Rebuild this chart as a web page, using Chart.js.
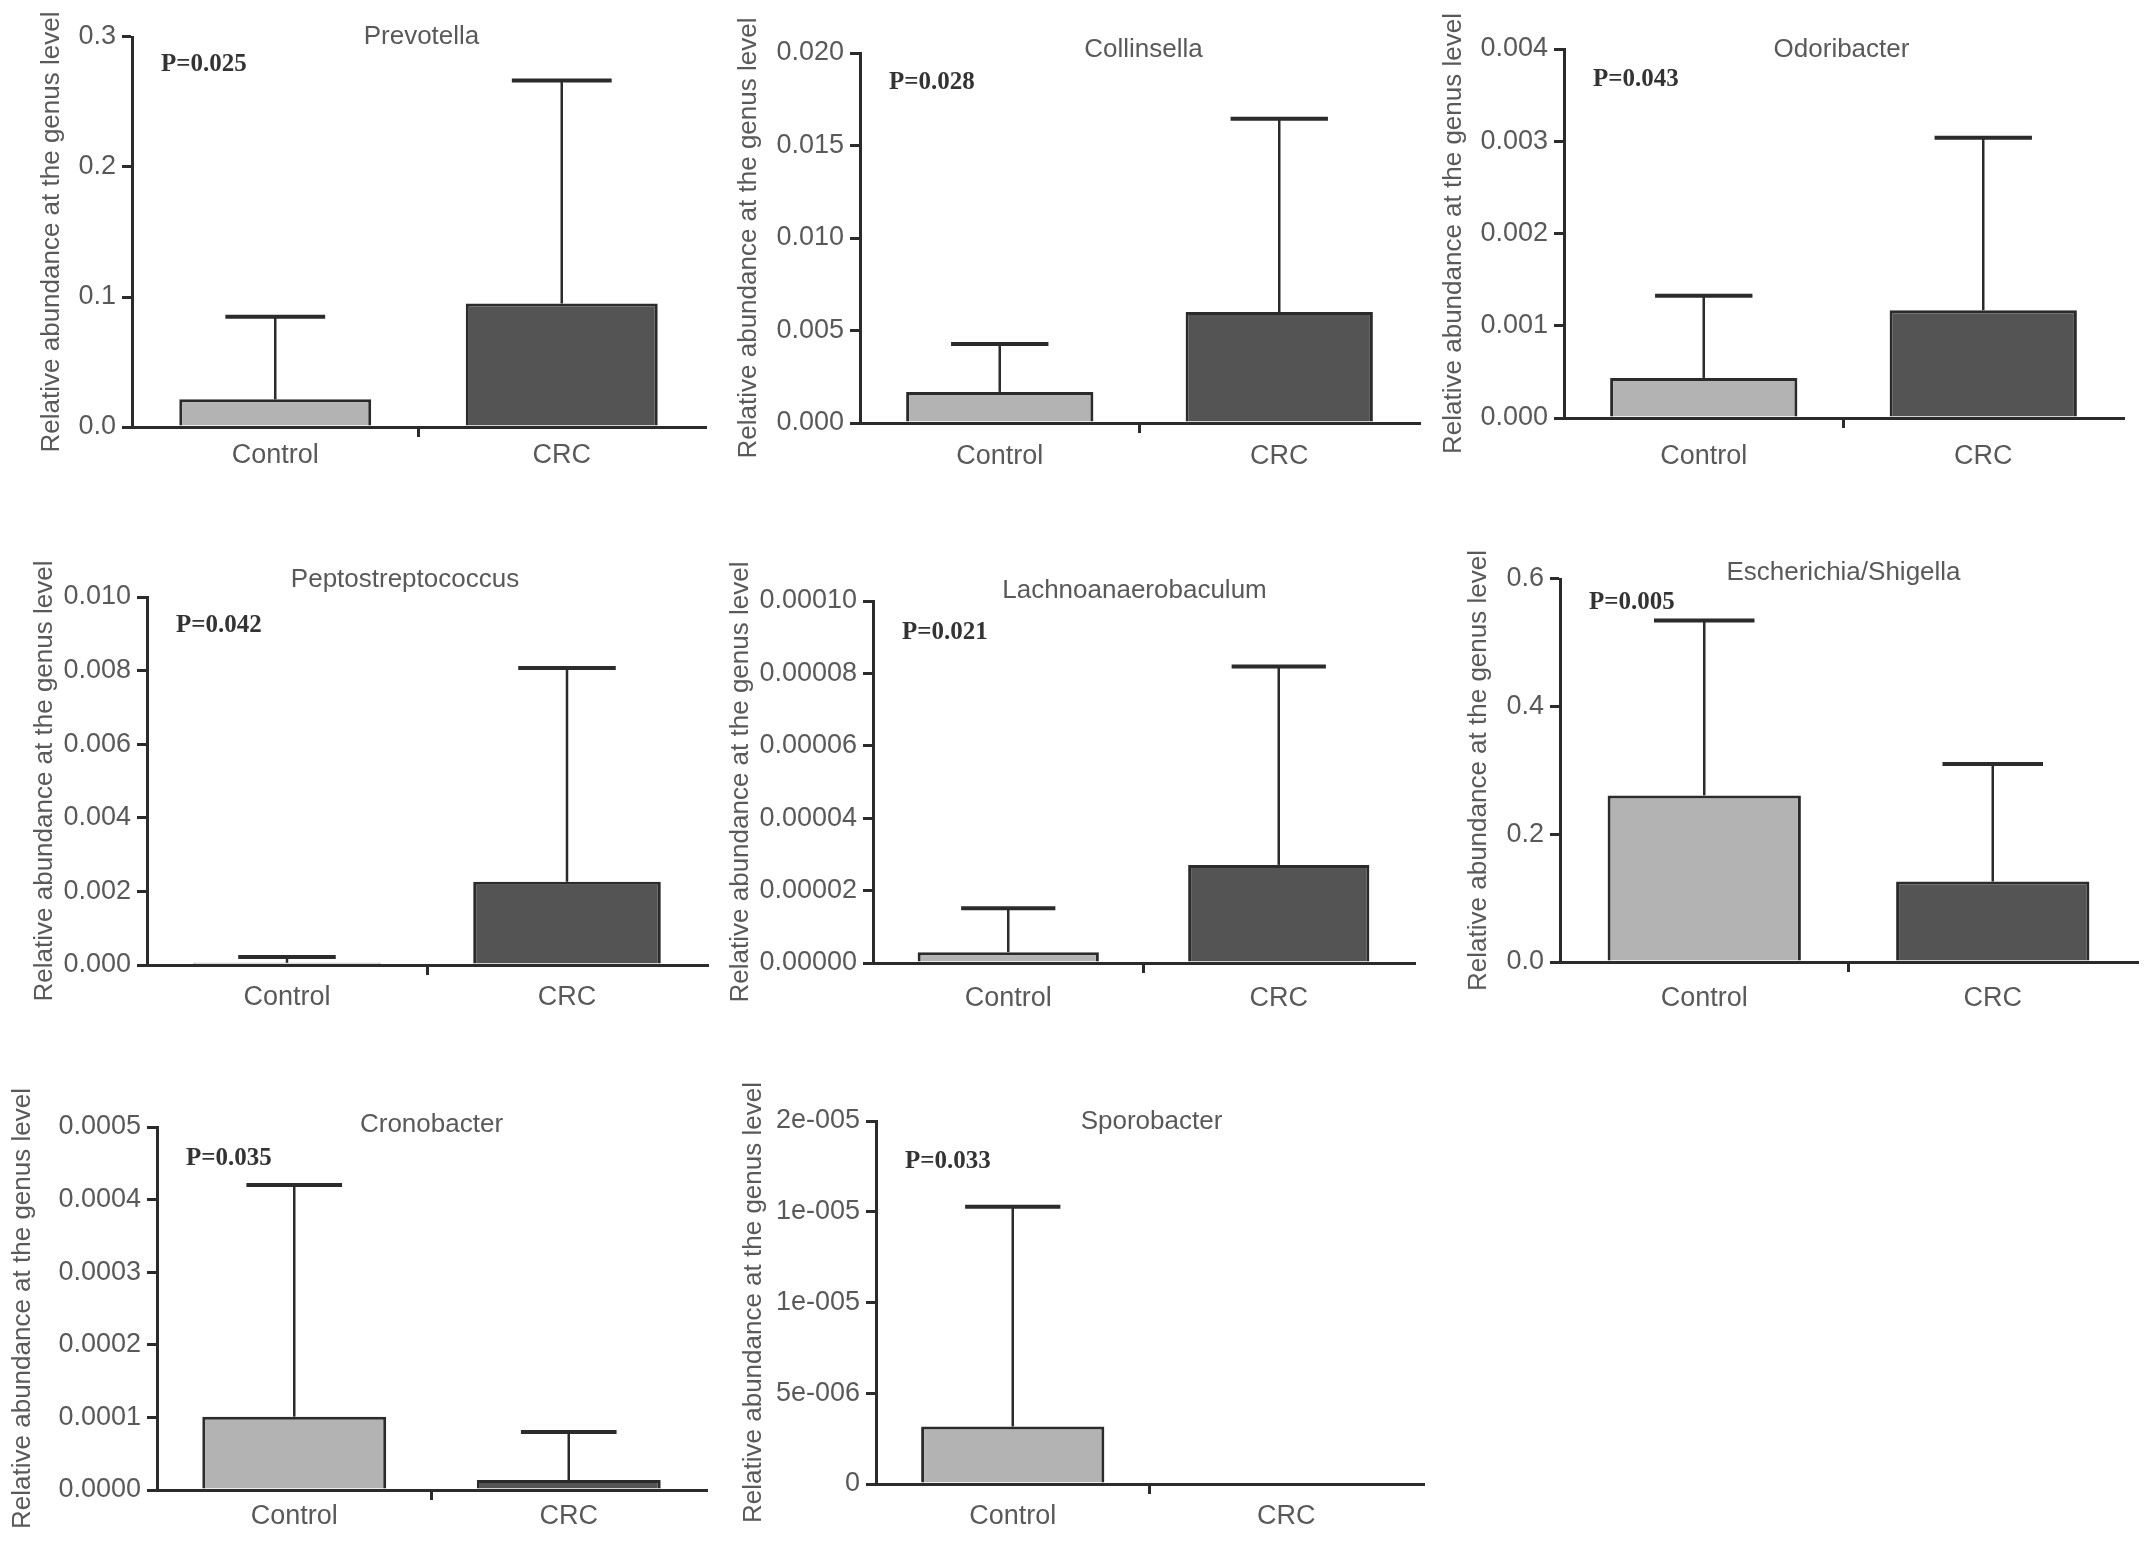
<!DOCTYPE html>
<html>
<head>
<meta charset="utf-8">
<script src="https://cdn.jsdelivr.net/npm/chart.js@4.4.1/dist/chart.umd.min.js"></script>
<style>
  html, body { margin: 0; padding: 0; background: #fff; overflow: hidden; }
  #page { position: relative; width: 2150px; height: 1549px; }
  canvas { position: absolute; }
</style>
</head>
<body>
<div id="page"></div>
<script>
const groups = ['Control', 'CRC'];
const genera = ['Prevotella', 'Collinsella', 'Odoribacter', 'Peptostreptococcus',
  'Lachnoanaerobaculum', 'Escherichia/Shigella', 'Cronobacter', 'Sporobacter'];
const pLabels = ['P=0.025', 'P=0.028', 'P=0.043', 'P=0.042', 'P=0.021', 'P=0.005', 'P=0.035', 'P=0.033'];

// bar heights (mean) and top of the error bar (mean + SD)
const controlMean = [0.0213, 0.00168, 0.000434, 0.00006, 0.0000030, 0.261, 0.000101, 0.00000317];
const crcMean = [0.095, 0.0060, 0.001168, 0.00226, 0.0000271, 0.126, 0.0000138, 0];
const controlUpper = [0.0848, 0.00427, 0.001324, 0.00022, 0.0000151, 0.535, 0.00042, 0.00001527];
const crcUpper = [0.2666, 0.01645, 0.003038, 0.00807, 0.0000819, 0.310, 0.00008, 0];

const yMax = [0.3, 0.02, 0.004, 0.01, 0.0001, 0.6, 0.0005, 0.00002];
const yStep = [0.1, 0.005, 0.001, 0.002, 0.00002, 0.2, 0.0001, 0.000005];
const yTickLabels = [
  ['0.0', '0.1', '0.2', '0.3'],
  ['0.000', '0.005', '0.010', '0.015', '0.020'],
  ['0.000', '0.001', '0.002', '0.003', '0.004'],
  ['0.000', '0.002', '0.004', '0.006', '0.008', '0.010'],
  ['0.00000', '0.00002', '0.00004', '0.00006', '0.00008', '0.00010'],
  ['0.0', '0.2', '0.4', '0.6'],
  ['0.0000', '0.0001', '0.0002', '0.0003', '0.0004', '0.0005'],
  ['0', '5e-006', '1e-005', '1e-005', '2e-005']
];

// where each panel sits on the page: y axis x, right end, top tick y, zero line y,
// centre of the rotated axis title, and small nudges for the texts
const panels = [
  { ax: 132, x1: 705, top: 37, bot: 427, titleX: 52, nameDx: 3, nameDy: 0, pDy: 28, xPad: 2 },
  { ax: 860, x1: 1419, top: 53, bot: 423, titleX: 749, nameDx: 4, nameDy: -3, pDy: 30, xPad: 7 },
  { ax: 1564, x1: 2123, top: 49, bot: 418, titleX: 1454, nameDx: -2, nameDy: 1, pDy: 31, xPad: 12 },
  { ax: 147, x1: 707, top: 597, bot: 965, titleX: 45, nameDx: -22, nameDy: -17, pDy: 29, xPad: 6 },
  { ax: 873, x1: 1414, top: 601, bot: 963, titleX: 741, nameDx: -9, nameDy: -10, pDy: 32, xPad: 9 },
  { ax: 1560, x1: 2137, top: 579, bot: 962, titleX: 1479, nameDx: -5, nameDy: -6, pDy: 24, xPad: 10 },
  { ax: 157, x1: 706, top: 1127, bot: 1490, titleX: 23, nameDx: 0, nameDy: -2, pDy: 32, xPad: 0 },
  { ax: 876, x1: 1423, top: 1121, bot: 1484, titleX: 754, nameDx: 2, nameDy: 1, pDy: 41, xPad: 6 }
];

const textGray = '#595959';
const lineColor = '#2b2b2b';
const sans = '"Liberation Sans", Arial, Helvetica, sans-serif';

// error bars, genus name and P value
const annotate = {
  id: 'annotate',
  afterDatasetsDraw(chart, args, opts) {
    const { ctx, chartArea, scales: { y } } = chart;
    const meta = chart.getDatasetMeta(0);
    ctx.save();
    ctx.strokeStyle = lineColor;
    meta.data.forEach((bar, i) => {
      const up = opts.upper[i];
      if (!(up > opts.mean[i])) return;
      const yTop = y.getPixelForValue(up);
      const half = bar.width * 0.26;
      ctx.lineWidth = 2.5;
      ctx.beginPath();
      ctx.moveTo(bar.x, bar.y);
      ctx.lineTo(bar.x, yTop);
      ctx.stroke();
      ctx.lineWidth = 4;
      ctx.beginPath();
      ctx.moveTo(bar.x - half, yTop);
      ctx.lineTo(bar.x + half, yTop);
      ctx.stroke();
    });
    ctx.fillStyle = textGray;
    ctx.font = '26px ' + sans;
    ctx.textAlign = 'center';
    ctx.textBaseline = 'middle';
    ctx.fillText(opts.name, (chartArea.left + chartArea.right) / 2 + opts.nameDx, chartArea.top + opts.nameDy);
    ctx.fillStyle = '#333';
    ctx.font = 'bold 25px "Liberation Serif", "Times New Roman", serif';
    ctx.textAlign = 'left';
    ctx.fillText(opts.p, chartArea.left + 29, chartArea.top + opts.pDy);
    ctx.restore();
  }
};

const PAD_TOP = 50;
const X_HEIGHT = 70;
const page = document.getElementById('page');

panels.forEach((p, i) => {
  const left = p.titleX - 16;
  const topPx = p.top - PAD_TOP;
  const canvas = document.createElement('canvas');
  canvas.width = p.x1 + 4 - left;
  canvas.height = p.bot + X_HEIGHT - topPx;
  canvas.style.left = left + 'px';
  canvas.style.top = topPx + 'px';
  page.appendChild(canvas);

  const yWidth = p.ax - left;
  const tickValues = yTickLabels[i].map((_, k) => k * yStep[i]);

  new Chart(canvas, {
    type: 'bar',
    data: {
      labels: groups,
      datasets: [{
        data: [controlMean[i], crcMean[i]],
        backgroundColor: ['#b3b3b3', '#545454'],
        borderColor: lineColor,
        borderWidth: 3,
        borderSkipped: 'bottom',
        barPercentage: 0.67,
        categoryPercentage: 1
      }]
    },
    options: {
      responsive: false,
      animation: false,
      events: [],
      layout: { padding: { left: 0, right: 4, top: PAD_TOP, bottom: 0 } },
      plugins: {
        legend: { display: false },
        tooltip: { enabled: false },
        annotate: {
          upper: [controlUpper[i], crcUpper[i]],
          mean: [controlMean[i], crcMean[i]],
          name: genera[i],
          p: pLabels[i],
          nameDx: p.nameDx,
          nameDy: p.nameDy,
          pDy: p.pDy
        }
      },
      scales: {
        x: {
          offset: true,
          grid: {
            offset: true,
            drawOnChartArea: false,
            tickLength: 10,
            lineWidth: 3,
            color: c => (c.type === 'tick' && c.index === 1) ? lineColor : 'rgba(0,0,0,0)'
          },
          border: { display: true, color: lineColor, width: 3 },
          ticks: { color: textGray, font: { family: sans, size: 27 }, padding: p.xPad },
          afterFit: s => { s.height = X_HEIGHT; }
        },
        y: {
          min: 0,
          max: yMax[i],
          afterBuildTicks: s => { s.ticks = tickValues.map(v => ({ value: v })); },
          ticks: {
            autoSkip: false,
            color: textGray,
            font: { family: sans, size: 27 },
            padding: 6,
            callback: (v, k) => yTickLabels[i][k]
          },
          grid: { drawOnChartArea: false, tickLength: 10, lineWidth: 3, color: lineColor },
          border: { display: true, color: lineColor, width: 3 },
          title: {
            display: true,
            text: 'Relative abundance at the genus level',
            color: textGray,
            font: { family: sans, size: 26 },
            padding: 0
          },
          afterFit: s => { s.width = yWidth; }
        }
      }
    },
    plugins: [annotate]
  });
});
</script>
</body>
</html>
